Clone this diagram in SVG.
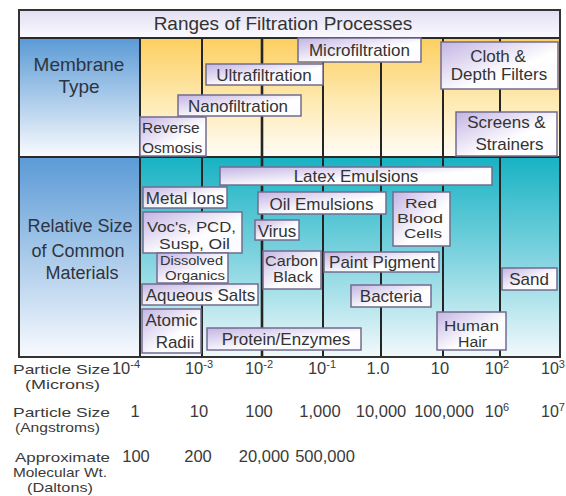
<svg xmlns="http://www.w3.org/2000/svg" width="566" height="496" viewBox="0 0 566 496">
<style>
text{font-family:"Liberation Sans",Arial,sans-serif;fill:#333;}
.t{font-size:17px;text-anchor:middle;}
.m{font-size:14px;}
.lbl{font-size:18px;text-anchor:middle;fill:#2e3440;}
.ax{font-size:16.5px;text-anchor:middle;fill:#3a3a3a;}
.al{font-size:13.5px;fill:#3a3a3a;}
.sup{font-size:11px;}
.box{fill:url(#boxG);stroke:#726c8e;stroke-width:1.5;}
.grid{stroke:#252525;stroke-width:2;fill:none;}
</style>
<defs>
<linearGradient id="blueG" x1="0" y1="0" x2="0" y2="1">
<stop offset="0" stop-color="#5a9ad6"/><stop offset="1" stop-color="#f8fafe"/>
</linearGradient>
<linearGradient id="yelG" x1="0" y1="0" x2="0" y2="1">
<stop offset="0" stop-color="#fccf60"/><stop offset="0.55" stop-color="#feeab4"/><stop offset="1" stop-color="#fffcf5"/>
</linearGradient>
<linearGradient id="tealG" x1="0" y1="0" x2="0" y2="1">
<stop offset="0" stop-color="#16b2c3"/><stop offset="0.5" stop-color="#7fd3df"/><stop offset="1" stop-color="#f2f9fc"/>
</linearGradient>
<linearGradient id="titleG" x1="0" y1="0" x2="0" y2="1">
<stop offset="0" stop-color="#e2def2"/><stop offset="1" stop-color="#fbfaff"/>
</linearGradient>
<linearGradient id="boxG" x1="0" y1="0" x2="1" y2="1">
<stop offset="0" stop-color="#c3b4e4"/><stop offset="0.6" stop-color="#ffffff"/><stop offset="1" stop-color="#fbfaff"/>
</linearGradient>
</defs>
<rect x="0" y="0" width="566" height="496" fill="#ffffff"/>
<g id="background">
<rect x="19" y="10" width="541" height="28" fill="url(#titleG)"/>
<rect x="19" y="38" width="121" height="118" fill="url(#blueG)"/>
<rect x="19" y="156" width="121" height="201" fill="url(#blueG)"/>
<rect x="140" y="38" width="420" height="118" fill="url(#yelG)"/>
<rect x="140" y="156" width="420" height="201" fill="url(#tealG)"/>
</g>
<g id="grid">
<path class="grid" d="M202 38V357M262 38V357M323 38V357M381 38V357M443 38V357M500 38V357"/>
<path d="M262 38V357" stroke="#252525" stroke-width="2.6"/>
<path d="M140 38V357M18 157H560M19 38H560" stroke="#2a2a2a" stroke-width="2" fill="none"/>
<rect x="19" y="10" width="541" height="347" fill="none" stroke="#333" stroke-width="2"/>
</g>
<g id="title"><text x="283" y="30" style="font-size:19px;text-anchor:middle;">Ranges of Filtration Processes</text></g>
<g id="membrane-label"><text class="lbl" x="79" y="71" style="font-size:19px">Membrane</text><text class="lbl" x="79" y="93" style="font-size:19px">Type</text></g>
<g id="materials-label"><text class="lbl" x="80" y="232">Relative Size</text><text class="lbl" x="78" y="257">of Common</text><text class="lbl" x="82" y="279">Materials</text></g>

<g id="microfiltration"><rect class="box" x="298" y="38" width="123" height="24"/><text class="t" x="359.5" y="56">Microfiltration</text></g>
<g id="ultrafiltration"><rect class="box" x="206" y="64" width="117" height="21"/><text class="t" x="264" y="81">Ultrafiltration</text></g>
<g id="nanofiltration"><rect class="box" x="178" y="95" width="123" height="21"/><text class="t" x="238" y="112">Nanofiltration</text></g>
<g id="reverse-osmosis"><rect class="box" x="140" y="117" width="66" height="39"/><text x="142" y="133" style="font-size:15.5px">Reverse</text><text x="142" y="153" style="font-size:15.5px">Osmosis</text></g>
<g id="cloth-depth"><rect class="box" x="441" y="42" width="117" height="47"/><text class="t" x="498" y="62">Cloth &amp;</text><text class="t" x="499" y="80">Depth Filters</text></g>
<g id="screens-strainers"><rect class="box" x="456" y="112" width="101" height="44"/><text class="t" x="506.5" y="128">Screens &amp;</text><text class="t" x="509.5" y="150">Strainers</text></g>

<g id="latex-emulsions"><rect class="box" x="220" y="167" width="272" height="18"/><text class="t" x="356" y="182">Latex Emulsions</text></g>
<g id="metal-ions"><rect class="box" x="143" y="187" width="84" height="21"/><text class="t" x="185" y="204">Metal Ions</text></g>
<g id="oil-emulsions"><rect class="box" x="258" y="192" width="128" height="22"/><text class="t" x="321.5" y="210">Oil Emulsions</text></g>
<g id="vocs"><rect class="box" x="143" y="212" width="99" height="41"/><text x="147" y="232" style="font-size:15px" textLength="89" lengthAdjust="spacingAndGlyphs">Voc's, PCD,</text><text x="159" y="249" style="font-size:15px" textLength="71" lengthAdjust="spacingAndGlyphs">Susp, Oil</text></g>
<g id="virus"><rect class="box" x="255" y="220" width="44" height="20"/><text class="t" x="277" y="237">Virus</text></g>
<g id="dissolved-organics"><rect class="box" x="157" y="253" width="71" height="30"/><text x="160" y="265" style="font-size:13.2px" textLength="63" lengthAdjust="spacingAndGlyphs">Dissolved</text><text x="165" y="280" style="font-size:13.2px" textLength="60" lengthAdjust="spacingAndGlyphs">Organics</text></g>
<g id="carbon-black"><rect class="box" x="263" y="251" width="58" height="38"/><text class="m" x="265" y="266" textLength="53" lengthAdjust="spacingAndGlyphs">Carbon</text><text class="m" x="273" y="282" textLength="40" lengthAdjust="spacingAndGlyphs">Black</text></g>
<g id="paint-pigment"><rect class="box" x="324" y="252" width="115" height="20"/><text class="t" x="382" y="268">Paint Pigment</text></g>
<g id="aqueous-salts"><rect class="box" x="142" y="284" width="116" height="21"/><text class="t" x="200.5" y="301">Aqueous Salts</text></g>
<g id="bacteria"><rect class="box" x="351" y="285" width="80" height="22"/><text class="t" x="391" y="302">Bacteria</text></g>
<g id="atomic-radii"><rect class="box" x="142" y="309" width="59" height="44"/><text class="t" x="171.5" y="326">Atomic</text><text class="t" x="175" y="348">Radii</text></g>
<g id="protein-enzymes"><rect class="box" x="207" y="328" width="154" height="22"/><text class="t" x="286" y="345">Protein/Enzymes</text></g>
<g id="red-blood-cells"><rect class="box" x="393" y="192" width="57" height="54"/><text x="405" y="208" style="font-size:13.2px" textLength="32" lengthAdjust="spacingAndGlyphs">Red</text><text x="397" y="223" style="font-size:13.2px" textLength="46" lengthAdjust="spacingAndGlyphs">Blood</text><text x="404" y="238" style="font-size:13.2px" textLength="38" lengthAdjust="spacingAndGlyphs">Cells</text></g>
<g id="sand"><rect class="box" x="502" y="268" width="55" height="22"/><text class="t" x="529" y="285">Sand</text></g>
<g id="human-hair"><rect class="box" x="437" y="312" width="69" height="38"/><text class="m" x="444" y="331" textLength="55" lengthAdjust="spacingAndGlyphs">Human</text><text class="m" x="458" y="347" textLength="29" lengthAdjust="spacingAndGlyphs">Hair</text></g>

<g id="axis-microns">
<text class="al" x="13" y="374" textLength="97" lengthAdjust="spacingAndGlyphs">Particle Size</text>
<text class="al" x="25" y="389" textLength="75" lengthAdjust="spacingAndGlyphs">(Microns)</text>
<text class="ax" x="126" y="374">10<tspan class="sup" dy="-6">-4</tspan></text>
<text class="ax" x="199" y="374">10<tspan class="sup" dy="-6">-3</tspan></text>
<text class="ax" x="259" y="374">10<tspan class="sup" dy="-6">-2</tspan></text>
<text class="ax" x="322" y="374">10<tspan class="sup" dy="-6">-1</tspan></text>
<text class="ax" x="378" y="374">1.0</text>
<text class="ax" x="440" y="374">10</text>
<text class="ax" x="497" y="374">10<tspan class="sup" dy="-6">2</tspan></text>
<text x="541" y="374" style="font-size:16px;fill:#3a3a3a">10<tspan class="sup" dy="-6">3</tspan></text>
</g>
<g id="axis-angstroms">
<text class="al" x="13" y="417" textLength="97" lengthAdjust="spacingAndGlyphs">Particle Size</text>
<text class="al" x="15" y="432" textLength="85" lengthAdjust="spacingAndGlyphs">(Angstroms)</text>
<text class="ax" x="135" y="417">1</text>
<text class="ax" x="199" y="417">10</text>
<text class="ax" x="259" y="417">100</text>
<text class="ax" x="320" y="417">1,000</text>
<text class="ax" x="381" y="417">10,000</text>
<text class="ax" x="444" y="417">100,000</text>
<text class="ax" x="497" y="417">10<tspan class="sup" dy="-6">6</tspan></text>
<text x="541" y="417" style="font-size:16px;fill:#3a3a3a">10<tspan class="sup" dy="-6">7</tspan></text>
</g>
<g id="axis-daltons">
<text class="al" x="15" y="462" textLength="95" lengthAdjust="spacingAndGlyphs">Approximate</text>
<text class="al" x="13" y="477" textLength="94" lengthAdjust="spacingAndGlyphs">Molecular Wt.</text>
<text class="al" x="27" y="492" textLength="66" lengthAdjust="spacingAndGlyphs">(Daltons)</text>
<text class="ax" x="136" y="462">100</text>
<text class="ax" x="198" y="462">200</text>
<text class="ax" x="264" y="462">20,000</text>
<text class="ax" x="325" y="462">500,000</text>
</g>
</svg>
